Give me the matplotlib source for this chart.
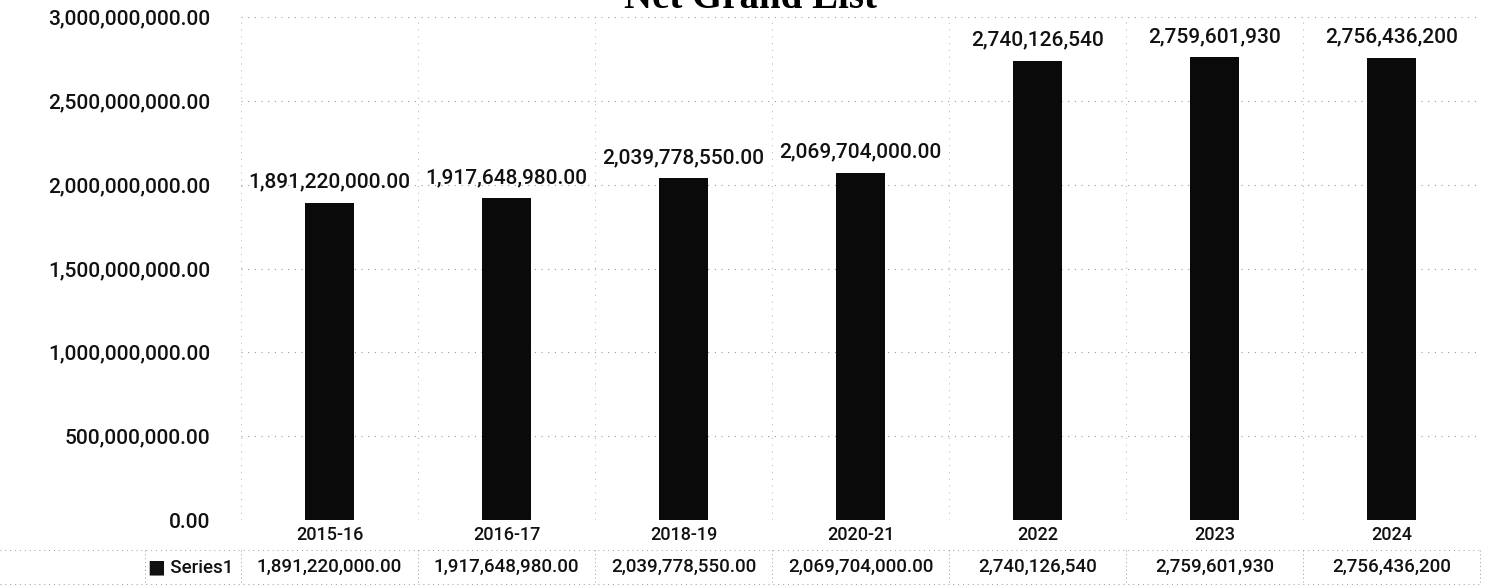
import matplotlib.pyplot as plt
from matplotlib.transforms import blended_transform_factory

# chart data
years = ['2015-16', '2016-17', '2018-19', '2020-21', '2022', '2023', '2024']
values = [1891220000.00, 1917648980.00, 2039778550.00, 2069704000.00,
          2740126540, 2759601930, 2756436200]
decimals = [2, 2, 2, 2, 0, 0, 0]
series_name = 'Series1'
y_ticks = [0, 500000000, 1000000000, 1500000000, 2000000000, 2500000000, 3000000000]

plt.rcParams['font.family'] = ['Roboto', 'DejaVu Sans']

fig = plt.figure(figsize=(14.91, 5.88), dpi=100)
ax = fig.add_axes([0.1616, 0.1156, 0.8310, 0.8555])

x = list(range(len(years)))
labels = [f'{v:,.{d}f}' for v, d in zip(values, decimals)]

ax.bar(x, values, width=0.28, color='#0a0a0a', zorder=3)

# value labels above bars
for xi, v, lab in zip(x, values, labels):
    ax.annotate(lab, (xi, v), xytext=(0, 8), textcoords='offset points',
                ha='center', va='bottom', fontsize=15, fontweight='medium',
                color='#111111')

ax.set_xlim(-0.5, len(years) - 0.5)
ax.set_ylim(0, 3000000000)
ax.set_yticks(y_ticks)
ax.set_yticklabels([f'{t:,.2f}' for t in y_ticks], fontsize=15,
                   fontweight='medium', color='#111111')
ax.tick_params(axis='y', length=0, pad=22)
ax.set_xticks(x)
ax.set_xticklabels(years, fontsize=13, fontweight='medium', color='#111111')
ax.tick_params(axis='x', length=0, pad=4)

for s in ax.spines.values():
    s.set_visible(False)

# faint dotted grid like the scan
ax.grid(axis='y', color='#9a9a9a', linestyle=(0, (1, 5)), linewidth=0.8, zorder=0)
for b in [i - 0.5 for i in range(len(years) + 1)]:
    ax.axvline(b, color='#b0b0b0', linestyle=(0, (1, 6)), linewidth=0.7, zorder=0)

# data table under the chart
tr = blended_transform_factory(ax.transData, fig.transFigure)
row_y = 1 - 567 / 588
for xi, lab in zip(x, labels):
    ax.text(xi, row_y, lab, transform=tr, ha='center', va='center',
            fontsize=13.5, fontweight='medium', color='#111111', clip_on=False)
fig.text(148 / 1491, row_y, '\u25a0 ' + series_name, ha='left', va='center',
         fontsize=13.5, fontweight='medium', color='#111111')

top_line = 1 - 550 / 588
bot_line = 1 - 584 / 588
for yl in [top_line, bot_line]:
    fig.add_artist(plt.Line2D([0.0, 0.993], [yl, yl], color='#9a9a9a',
                              linestyle=(0, (1, 4)), linewidth=0.7))
for b in [i - 0.5 for i in range(len(years) + 1)]:
    ax.plot([b, b], [top_line, bot_line], transform=tr, color='#9a9a9a',
            linestyle=(0, (1, 3)), linewidth=0.7, clip_on=False)
fig.add_artist(plt.Line2D([145 / 1491, 145 / 1491], [top_line, bot_line],
                          color='#9a9a9a', linestyle=(0, (1, 3)), linewidth=0.7))

# title, clipped at the top edge as in the scan
fig.text(0.503, 1 - 8 / 588, 'Net Grand List', ha='center', va='baseline',
         fontsize=28, fontweight='bold', family=['Liberation Serif', 'DejaVu Serif'])

fig.savefig('out.png', dpi=100)
